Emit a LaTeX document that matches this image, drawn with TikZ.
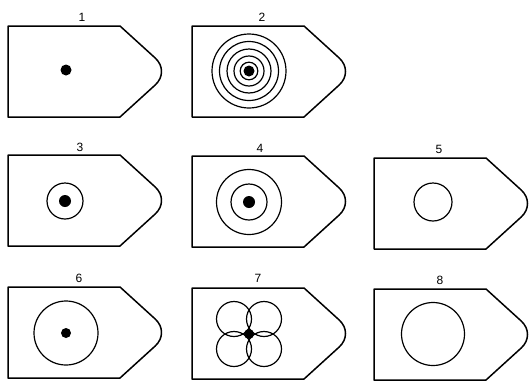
\documentclass[tikz,border=0pt]{standalone}
\usepackage{fontspec}
\setmainfont{Liberation Sans}
\begin{document}
\begin{tikzpicture}[x=1pt,y=-1pt,
  plateline/.style={line width=1.5pt,line join=round},
  ringline/.style={line width=1.2pt},
  dotfill/.style={fill=black},
  lab/.style={font=\fontsize{12}{12}\selectfont,inner sep=0pt},
  pics/plate/.style={code={
    \draw[plateline] (0,0) -- (112,0) -- (147.2,32.0) .. controls (155.6,39.7) and (155.6,51.3) .. (147.2,59.0) -- (112,91) -- (0,91) -- cycle;
  }}]
\useasboundingbox (0,0) rectangle (529,383);
% plates
\pic at (8,26) {plate};
\pic at (192,26) {plate};
\pic at (8,155) {plate};
\pic at (192,156) {plate};
\pic at (374,158) {plate};
\pic at (8,287) {plate};
\pic at (192,288) {plate};
\pic at (374,289) {plate};
% labels
\node[lab] (l1) at (82,17) {1};
\node[lab] (l2) at (262,17) {2};
\node[lab] (l3) at (80,147) {3};
\node[lab] (l4) at (260,148) {4};
\node[lab] (l5) at (439,149) {5};
\node[lab] (l6) at (79,278) {6};
\node[lab] (l7) at (258,278) {7};
\node[lab] (l8) at (440,280) {8};
% 1
\fill[dotfill] (66,70) circle (5.5);
% 2
\foreach \r in {37,29.5,22,15,8.8} \draw[ringline] (249,71) circle (\r);
\fill[dotfill] (249,71) circle (5.5);
% 3
\draw[ringline] (65,201) circle (18);
\fill[dotfill] (65,201) circle (6);
% 4
\draw[ringline] (249,202) circle (32.5);
\draw[ringline] (249,202) circle (18);
\fill[dotfill] (249,202) circle (6);
% 5
\draw[ringline] (433,202) circle (19);
% 6
\draw[ringline] (66,333) circle (32);
\fill[dotfill] (66,333) circle (5);
% 7
\foreach \dx/\dy in {-15/-15,15/-15,-15/15,15/15}
  \draw[ringline,shift={(\dx,\dy)}] (249,334) circle (17.5);
\fill[dotfill] (249,334) circle (5);
% 8
\draw[ringline] (433,334) circle (31.5);
\end{tikzpicture}
\end{document}
